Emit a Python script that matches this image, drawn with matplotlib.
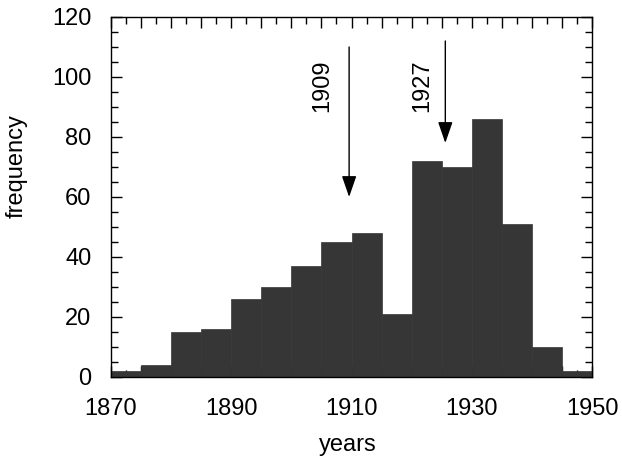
import matplotlib
matplotlib.use("Agg")
import matplotlib.pyplot as plt
from matplotlib.ticker import MultipleLocator, FixedLocator

plt.rcParams['font.family'] = ['Liberation Sans', 'DejaVu Sans']

bin_starts = [1870, 1875, 1880, 1885, 1890, 1895, 1900, 1905, 1910, 1915,
              1920, 1925, 1930, 1935, 1940, 1945]
counts = [2, 4, 15, 16, 26, 30, 37, 45, 48, 21, 72, 70, 86, 51, 10, 2]
bin_width = 5

x_tick_years = [1870, 1875, 1880, 1885, 1890, 1895, 1900, 1905, 1910, 1915,
                1920, 1925, 1930, 1935, 1940, 1945, 1950]
x_tick_labels = ['1870', '', '', '', '1890', '', '', '', '1910', '', '', '',
                 '1930', '', '', '', '1950']
y_ticks = [0, 20, 40, 60, 80, 100, 120]

annot_labels = ["1909", "1927"]
annot_x = [1909.6, 1925.6]
annot_tip = [60, 78]
annot_tail = [110, 112]
annot_text_x = [1905.2, 1921.7]

FS = 17

fig = plt.figure(figsize=(6.22, 4.58), dpi=100)
ax = fig.add_axes([0.1785, 0.1769, 0.9518 - 0.1785, 0.9629 - 0.1769])

ax.bar(bin_starts, counts, width=bin_width, align='edge', color='#363636',
       edgecolor='#363636', linewidth=0.5, zorder=2)

for lab, x, tip, tail, tx in zip(annot_labels, annot_x, annot_tip, annot_tail, annot_text_x):
    ax.annotate('', xy=(x, tip), xytext=(x, tail),
                arrowprops=dict(arrowstyle='-|>,head_length=1.3,head_width=0.45',
                                color='black', lw=1.0, shrinkA=0, shrinkB=0),
                zorder=3)
    ax.text(tx, 97, lab, rotation=90, ha='center', va='center',
            fontsize=FS, zorder=3)

ax.set_xlim(1870, 1950)
ax.set_ylim(0, 120)
ax.xaxis.set_major_locator(FixedLocator(x_tick_years))
ax.set_xticklabels(x_tick_labels)
ax.xaxis.set_minor_locator(MultipleLocator(2.5))
ax.set_yticks(y_ticks)
ax.yaxis.set_minor_locator(MultipleLocator(5))

ax.tick_params(which='both', direction='in', top=True, right=True,
               labelsize=FS, width=1.0)
ax.tick_params(which='major', length=8)
ax.tick_params(which='minor', length=5)
ax.tick_params(axis='x', which='major', pad=15)
ax.tick_params(axis='y', which='major', pad=14)

for s in ax.spines.values():
    s.set_linewidth(1.0)

ax.set_xlabel('years', fontsize=FS)
ax.set_ylabel('frequency', fontsize=FS)
ax.xaxis.set_label_coords(0.493, -0.158)
ax.yaxis.set_label_coords(-0.173, 0.586)

fig.savefig('out.png', dpi=100)
